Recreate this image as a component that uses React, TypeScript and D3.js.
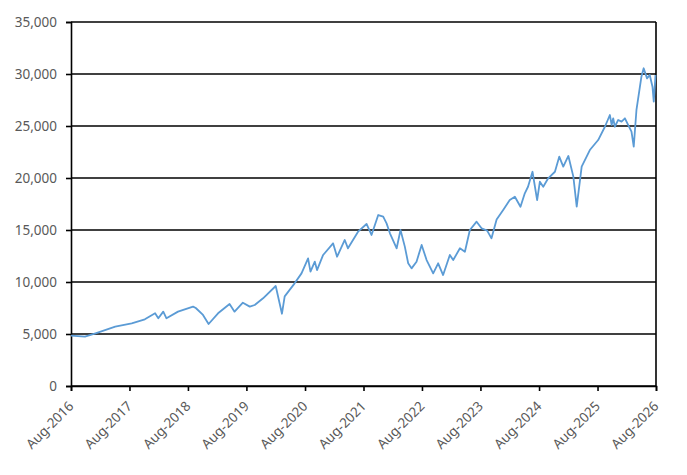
import React, { useEffect, useRef } from "react";
import * as d3 from "d3";

// readings, roughly one per turning point
const dates: string[] = [
  "2016-08-01", "2016-10-27", "2017-01-01", "2017-05-04", "2017-08-15", "2017-11-05",
  "2018-01-08", "2018-01-28", "2018-02-28", "2018-03-20", "2018-05-31", "2018-09-02",
  "2018-09-19", "2018-11-03", "2018-12-08", "2019-02-05", "2019-04-18", "2019-05-19",
  "2019-07-10", "2019-08-22", "2019-09-22", "2019-11-13", "2020-01-31", "2020-03-10",
  "2020-03-27", "2020-05-28", "2020-07-10", "2020-08-20", "2020-09-04", "2020-10-01",
  "2020-10-15", "2020-11-22", "2021-01-23", "2021-02-17", "2021-04-06", "2021-04-26",
  "2021-06-28", "2021-08-20", "2021-09-20", "2021-11-01", "2021-12-02", "2021-12-23",
  "2022-01-13", "2022-02-24", "2022-03-20", "2022-04-16", "2022-05-07", "2022-05-28",
  "2022-06-28", "2022-07-30", "2022-08-30", "2022-10-10", "2022-11-10", "2022-12-11",
  "2023-01-22", "2023-02-12", "2023-03-26", "2023-04-26", "2023-05-27", "2023-07-08",
  "2023-08-08", "2023-09-12", "2023-10-09", "2023-11-10", "2023-12-21", "2024-01-31",
  "2024-03-03", "2024-04-07", "2024-05-04", "2024-05-24", "2024-06-21", "2024-07-20",
  "2024-08-06", "2024-08-27", "2024-09-27", "2024-11-08", "2024-12-05", "2024-12-30",
  "2025-01-31", "2025-03-03", "2025-03-24", "2025-04-24", "2025-06-14", "2025-08-05",
  "2025-09-16", "2025-10-17", "2025-10-28", "2025-11-07", "2025-11-17", "2025-12-08",
  "2025-12-29", "2026-01-19", "2026-02-08", "2026-03-01", "2026-03-15", "2026-04-01",
  "2026-05-02", "2026-05-16", "2026-06-06", "2026-06-23", "2026-07-10", "2026-07-18",
  "2026-07-29",
];

const values: number[] = [
  4850, 4740, 5070, 5700, 6030, 6410,
  6990, 6510, 7150, 6510, 7150, 7630,
  7500, 6830, 5960, 6990, 7880, 7150,
  8010, 7630, 7790, 8430, 9615, 6950,
  8620, 9870, 10830, 12270, 10990, 11960,
  11150, 12600, 13720, 12430, 14040, 13240,
  14840, 15580, 14520, 16440, 16280, 15640,
  14680, 13240, 15000, 13400, 11800, 11310,
  11950, 13560, 12110, 10830, 11800, 10670,
  12600, 12110, 13240, 12910, 15000, 15800,
  15160, 14940, 14200, 16000, 16920, 17880,
  18200, 17240, 18530, 19160, 20600, 17880,
  19650, 19160, 19970, 20600, 22050, 21090,
  22120, 20130, 17240, 21090, 22690, 23650,
  24930, 26060, 25100, 25740, 24930, 25580,
  25420, 25740, 25100, 24450, 23010, 26540,
  29740, 30550, 29580, 29900, 28780, 27340,
  29900,
];

const yTicks: number[] = [0, 5000, 10000, 15000, 20000, 25000, 30000, 35000];
const xTickYears: number[] = [2016, 2017, 2018, 2019, 2020, 2021, 2022, 2023, 2024, 2025, 2026];

const W = 687;
const H = 475;

const App: React.FC = () => {
  const ref = useRef<SVGSVGElement | null>(null);

  useEffect(() => {
    if (!ref.current) return;
    const svg = d3.select(ref.current);
    svg.selectAll("*").remove();

    const margin = { top: 22, right: 31, bottom: 89, left: 71 };
    const parse = d3.timeParse("%Y-%m-%d");
    const data = dates.map((d, i) => ({ date: parse(d) as Date, value: values[i] }));

    const x = d3
      .scaleTime()
      .domain([new Date(2016, 7, 1), new Date(2026, 7, 1)])
      .range([margin.left, W - margin.right]);
    const y = d3
      .scaleLinear()
      .domain([0, 35000])
      .range([H - margin.bottom, margin.top]);

    const font = "'Noto Sans', sans-serif";
    const textColor = "#595959";

    // horizontal gridlines
    svg
      .append("g")
      .selectAll("line")
      .data(yTicks)
      .join("line")
      .attr("x1", margin.left)
      .attr("x2", W - margin.right)
      .attr("y1", (d) => y(d))
      .attr("y2", (d) => y(d))
      .attr("stroke", "#000")
      .attr("stroke-width", 1.6);

    // y axis
    const yAxis = svg
      .append("g")
      .attr("transform", `translate(${margin.left},0)`)
      .call(
        d3
          .axisLeft(y)
          .tickValues(yTicks)
          .tickSize(5)
          .tickPadding(9)
          .tickFormat((d) => d3.format(",")(d as number))
      );
    yAxis.select(".domain").attr("stroke", "#000").attr("stroke-width", 1.6);
    yAxis.selectAll(".tick line").attr("stroke", "#000").attr("stroke-width", 1.6);
    yAxis
      .selectAll(".tick text")
      .attr("fill", textColor)
      .style("font-family", font)
      .style("font-size", "13.5px");

    // right border
    svg
      .append("line")
      .attr("x1", W - margin.right)
      .attr("x2", W - margin.right)
      .attr("y1", margin.top)
      .attr("y2", H - margin.bottom)
      .attr("stroke", "#000")
      .attr("stroke-width", 1.6);

    // x axis
    const xTicks = xTickYears.map((yr) => new Date(yr, 7, 1));
    const xAxis = svg
      .append("g")
      .attr("transform", `translate(0,${H - margin.bottom})`)
      .call(
        d3
          .axisBottom(x)
          .tickValues(xTicks)
          .tickSize(5)
          .tickFormat((d) => d3.timeFormat("Aug-%Y")(d as Date))
      );
    xAxis.select(".domain").attr("stroke", "#000").attr("stroke-width", 1.6);
    xAxis.selectAll(".tick line").attr("stroke", "#000").attr("stroke-width", 1.6);
    xAxis
      .selectAll(".tick text")
      .attr("fill", textColor)
      .attr("text-anchor", "end")
      .attr("y", 0)
      .attr("dy", 0)
      .attr("transform", "translate(3,21) rotate(-45)")
      .style("font-family", font)
      .style("font-size", "13.5px");

    // series
    const line = d3
      .line<{ date: Date; value: number }>()
      .x((d) => x(d.date))
      .y((d) => y(d.value));

    svg
      .append("path")
      .datum(data)
      .attr("d", line)
      .attr("fill", "none")
      .attr("stroke", "#5B9BD5")
      .attr("stroke-width", 1.8)
      .attr("stroke-linejoin", "round");
  }, []);

  return (
    <div style={{ position: "absolute", left: 0, top: 0 }}>
      <svg ref={ref} width={W} height={H} style={{ display: "block", background: "#fff" }} />
    </div>
  );
};

export default App;
